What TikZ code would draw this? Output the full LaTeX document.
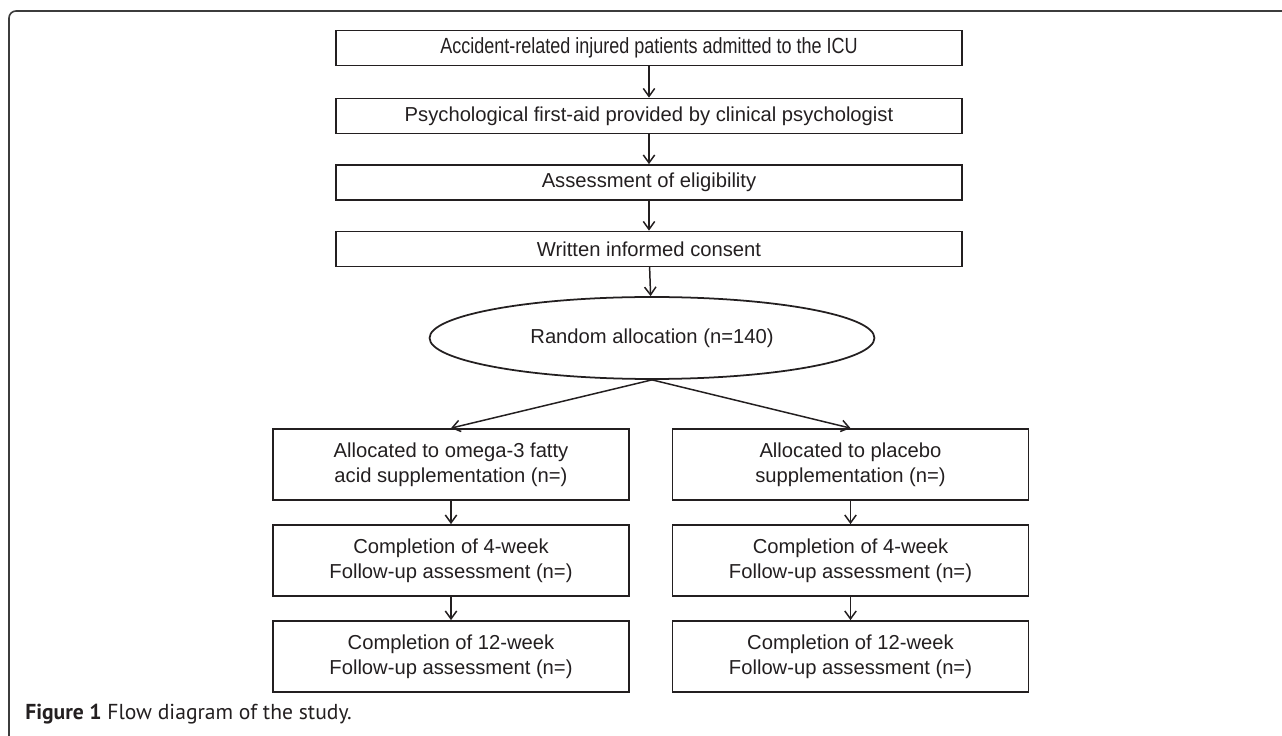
\documentclass[tikz,border=0pt]{standalone}
\usepackage{fontspec}
\setmainfont{Liberation Sans}
\newfontfamily\capfont{PT Sans}
\newfontfamily\narrowfont[FakeStretch=0.82]{Liberation Sans}
\usepackage{tikz}
\usetikzlibrary{arrows.meta, shapes.geometric}
\definecolor{inkc}{RGB}{35,31,32}
\definecolor{framec}{RGB}{60,60,60}

\begin{document}
\begin{tikzpicture}[x=0.02cm, y=-0.02cm, line cap=round,
    font=\fontsize{11.5}{14}\selectfont, text=inkc,
    topbox/.style={draw=inkc, line width=1pt, minimum width=12.52cm,
      minimum height=0.70cm, inner sep=0pt},
    sidebox/.style={draw=inkc, line width=1pt, minimum width=7.12cm,
      minimum height=1.42cm, align=center, inner sep=0pt},
    arr/.style={-{Straight Barb[length=4.5pt,width=6.5pt]}, draw=inkc, line width=0.85pt}]
  \useasboundingbox (0,0) rectangle (1282,736);

  % outer figure frame, open on the right and at the bottom
  \draw[framec, line width=0.9pt, rounded corners=0.14cm] (9,736) -- (9,11) -- (1282,11);

  % main column
  \node[topbox] (admit) at (649,48)
    {\narrowfont\fontsize{12.5}{14}\selectfont Accident-related injured patients admitted to the ICU};
  \node[topbox] (firstaid) at (649,116) {Psychological first-aid provided by clinical psychologist};
  \node[topbox] (elig) at (649,182.5) {Assessment of eligibility};
  \node[topbox] (consent) at (649,249) {Written informed consent};
  \node[ellipse, draw=inkc, line width=1pt, minimum width=8.9cm, minimum height=1.64cm,
    inner sep=0pt] (rand) at (652,338) {Random allocation (n=140)};

  % omega-3 arm
  \node[sidebox] (omA) at (451,464.5) {Allocated to omega-3 fatty\\ acid supplementation (n=)};
  \node[sidebox] (omB) at (451,560.5) {Completion of 4-week\\ Follow-up assessment (n=)};
  \node[sidebox] (omC) at (451,656.5) {Completion of 12-week\\ Follow-up assessment (n=)};

  % placebo arm
  \node[sidebox] (plA) at (850.5,464.5) {Allocated to placebo\\supplementation (n=)};
  \node[sidebox] (plB) at (850.5,560.5) {Completion of 4-week\\ Follow-up assessment (n=)};
  \node[sidebox] (plC) at (850.5,656.5) {Completion of 12-week\\ Follow-up assessment (n=)};

  % arrows
  \draw[arr] (admit) -- (firstaid);
  \draw[arr] (firstaid) -- (elig);
  \draw[arr] (elig) -- (consent);
  \draw[arr] (consent) -- (rand);
  \draw[arr] (rand.south) -- (omA.north);
  \draw[arr] (rand.south) -- (plA.north);
  \draw[arr] (omA) -- (omB);
  \draw[arr] (omB) -- (omC);
  \draw[arr] (plA) -- (plB);
  \draw[arr] (plB) -- (plC);

  % caption
  \node[anchor=base west, inner sep=0pt, font=\capfont\fontsize{12.3}{14}\selectfont] (cap) at (25,719)
    {\textbf{Figure 1} Flow diagram of the study.};
\end{tikzpicture}
\end{document}
